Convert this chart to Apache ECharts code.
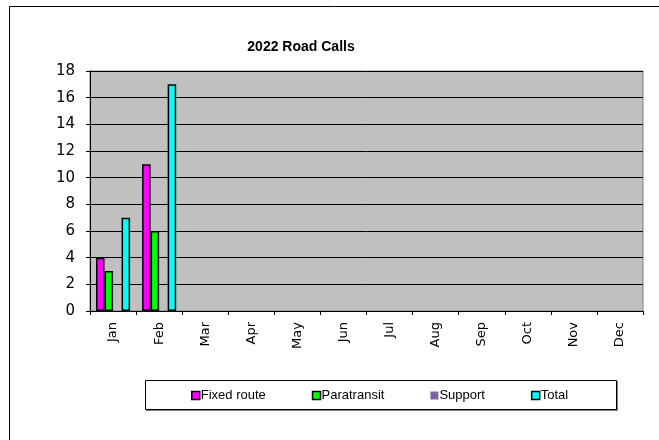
<!DOCTYPE html>
<html><head><meta charset="utf-8">
<script src="https://cdn.jsdelivr.net/npm/echarts@6/dist/echarts.min.js"></script>
<style>html,body{margin:0;padding:0;background:#fff}#c{width:659px;height:440px}</style>
</head><body><div id="c"></div>
<script>
const months = ['Jan','Feb','Mar','Apr','May','Jun','Jul','Aug','Sep','Oct','Nov','Dec'];
const fixedRoute = [4, 11, null, null, null, null, null, null, null, null, null, null];
const paratransit = [3, 6, null, null, null, null, null, null, null, null, null, null];
const support = [null, null, null, null, null, null, null, null, null, null, null, null];
const total = [7, 17, null, null, null, null, null, null, null, null, null, null];
const seriesNames = ['Fixed route','Paratransit','Support','Total'];
const seriesColors = ['#ff00ff','#00ff00','#8064a2','#00ffff'];
const seriesData = [fixedRoute, paratransit, support, total];

const chart = echarts.init(document.getElementById('c'), null, {renderer:'canvas'});
chart.setOption({
  animation:false,
  title:{text:'2022 Road Calls', left:296, top:35, textAlign:'center',
    textStyle:{fontFamily:'Liberation Sans', fontWeight:'bold', fontSize:14, color:'#000'}},
  graphic:[
    {type:'rect', shape:{x:9.5,y:6.5,width:700,height:500}, style:{fill:'none',stroke:'#000',lineWidth:1}, z:-10},
    {type:'rect', shape:{x:146,y:381,width:472,height:30}, style:{fill:'#808080'}, z:0},
    {type:'rect', shape:{x:145.5,y:380.5,width:471,height:29}, style:{fill:'#fff',stroke:'#000',lineWidth:1}, z:1}
  ],
  legend:{
    left:186, top:384, itemGap:46, itemWidth:8, itemHeight:8, z:5,
    icon:'rect',
    textStyle:{fontFamily:'Liberation Sans', fontSize:13, color:'#000', padding:[0,0,0,-4]},
    data:seriesNames.map((n,i)=>({name:n, itemStyle:{borderColor: i===2?'transparent':'#000', borderWidth: i===2?0:1.5}}))
  },
  grid:{left:90, top:71, width:553, height:240, show:true, backgroundColor:'#c0c0c0', borderColor:'#808080', borderWidth:1},
  xAxis:{type:'category', data:months,
    axisLine:{lineStyle:{color:'#000', width:1}},
    axisTick:{show:true, length:4, lineStyle:{color:'#000'}},
    axisLabel:{rotate:90, margin:11, fontFamily:'DejaVu Sans', fontSize:13, color:'#000'}},
  yAxis:{type:'value', min:0, max:18, interval:2,
    axisLine:{show:true, lineStyle:{color:'#000'}},
    axisTick:{show:true, length:4, lineStyle:{color:'#000'}},
    splitLine:{lineStyle:{color:'#000', width:1}},
    axisLabel:{margin:15, fontFamily:'DejaVu Sans', fontSize:15, color:'#000'}},
  series: seriesNames.map((n,i)=>({
    name:n, type:'bar', data:seriesData[i], barGap:'0%', barCategoryGap:'26%',
    itemStyle:{color:seriesColors[i], borderColor:'#000', borderWidth:1.5}
  }))
});
</script></body></html>
